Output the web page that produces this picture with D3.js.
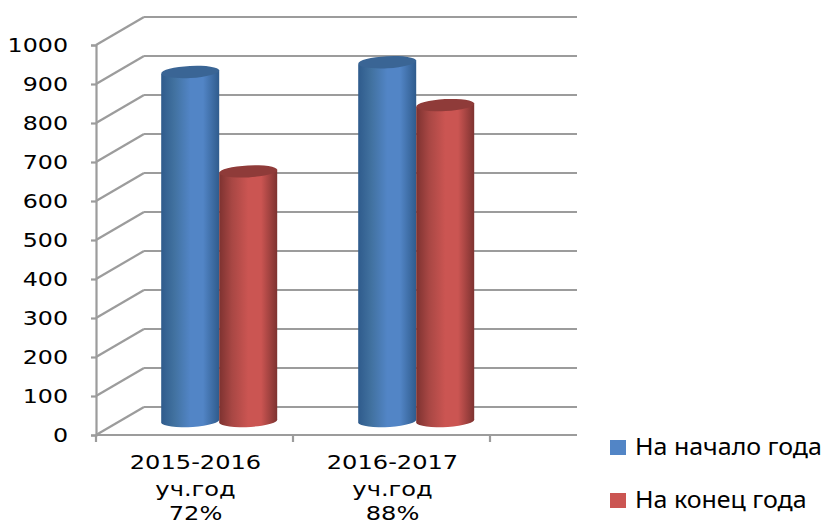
<!DOCTYPE html>
<html>
<head>
<meta charset="utf-8">
<script src="https://cdn.jsdelivr.net/npm/d3@7"></script>
<style>
  html, body { margin: 0; background: #fff; }
  svg { display: block; }
</style>
</head>
<body>
<div class="chart"></div>
<script>
const categories = ["2015-2016|уч.год|72%", "2016-2017|уч.год|88%"];
const seriesNames = ["На начало года", "На конец года"];
const startOfYear = [895, 920];
const endOfYear = [640, 810];
const yTicks = [0, 100, 200, 300, 400, 500, 600, 700, 800, 900, 1000];
const seriesColors = [
  { dark: "#2f5b8c", mid: "#5285c6", top: "#3a6595", edge: "#41719f" },
  { dark: "#7d3230", mid: "#cb5552", top: "#8f3b39", edge: "#a84744" },
];

const width = 827;
const height = 525;
const depth = { x: 48, y: -28 }; // how far the back wall is shifted from the front
const labelStretch = 1.25; // the reference text is wider than the font

const svg = d3
  .select(".chart")
  .append("svg")
  .attr("width", width)
  .attr("height", height)
  .style("font-family", "'DejaVu Sans', sans-serif");

const defs = svg.append("defs");
seriesColors.forEach(function (c, i) {
  const grad = defs
    .append("linearGradient")
    .attr("id", "cyl" + i)
    .attr("x1", 0)
    .attr("x2", 1)
    .attr("y1", 0)
    .attr("y2", 0);
  grad.append("stop").attr("offset", "0%").attr("stop-color", c.dark);
  grad.append("stop").attr("offset", "22%").attr("stop-color", c.edge);
  grad.append("stop").attr("offset", "50%").attr("stop-color", c.mid);
  grad.append("stop").attr("offset", "72%").attr("stop-color", c.mid);
  grad.append("stop").attr("offset", "100%").attr("stop-color", c.dark);
});

const xScale = d3.scaleBand().domain(categories).range([96, 490]);
const yScale = d3.scaleLinear().domain([0, 1000]).range([435, 45]);

const gridColor = "#9c9c9c";
const gridWidth = 2.2;

// back wall lines and the slanted side wall lines
const grid = svg.append("g");
grid
  .selectAll(".back")
  .data(yTicks)
  .enter()
  .append("line")
  .attr("x1", 96 + depth.x)
  .attr("x2", 577)
  .attr("y1", (d) => yScale(d) + depth.y)
  .attr("y2", (d) => yScale(d) + depth.y);
grid
  .selectAll(".side")
  .data(yTicks)
  .enter()
  .append("line")
  .attr("x1", 96)
  .attr("x2", 96 + depth.x)
  .attr("y1", (d) => yScale(d))
  .attr("y2", (d) => yScale(d) + depth.y);
grid.selectAll("line").attr("stroke", gridColor).attr("stroke-width", gridWidth);

// floor front edge and ticks
svg
  .append("line")
  .attr("x1", 96)
  .attr("x2", 577)
  .attr("y1", yScale(0))
  .attr("y2", yScale(0))
  .attr("stroke", gridColor)
  .attr("stroke-width", gridWidth);

svg
  .selectAll(".xtick")
  .data([96, 96 + xScale.bandwidth(), 96 + 2 * xScale.bandwidth()])
  .enter()
  .append("line")
  .attr("x1", (d) => d)
  .attr("x2", (d) => d)
  .attr("y1", yScale(0))
  .attr("y2", yScale(0) + 7)
  .attr("stroke", gridColor)
  .attr("stroke-width", gridWidth);

const yAxis = svg
  .append("g")
  .attr("transform", "translate(96,0)")
  .call(d3.axisLeft(yScale).tickValues(yTicks).tickSize(5).tickFormat((d) => d));
yAxis.selectAll("path, line").attr("stroke", gridColor).attr("stroke-width", gridWidth);
yAxis
  .selectAll("text")
  .attr("fill", "#000")
  .style("font-family", "'DejaVu Sans', sans-serif")
  .style("font-size", "19px")
  .attr("x", -28 / labelStretch)
  .attr("y", 0)
  .attr("dy", "0.36em")
  .attr("transform", `scale(${labelStretch},1)`);

// cylinders
const barWidth = 58;
const rx = barWidth / 2;
const ry = 6;
const midFloor = yScale(0) + depth.y / 2;

function drawCylinder(cx, value, i) {
  const topY = midFloor - (yScale(0) - yScale(value));
  const c = seriesColors[i];
  const g = svg.append("g");
  g.append("path")
    .attr(
      "d",
      `M${cx - rx},${topY + 2}` +
        `L${cx - rx},${midFloor + 2}` +
        `A${rx},${ry} -3 0 0 ${cx + rx},${midFloor - 2}` +
        `L${cx + rx},${topY - 2}Z`
    )
    .attr("fill", `url(#cyl${i})`);
  g.append("ellipse")
    .attr("cx", cx)
    .attr("cy", topY)
    .attr("rx", rx)
    .attr("ry", ry)
    .attr("transform", `rotate(-3 ${cx} ${topY})`)
    .attr("fill", c.top);
}

categories.forEach(function (cat, k) {
  const center = xScale(cat) + xScale.bandwidth() / 2 + depth.x / 2 + 0.7;
  drawCylinder(center - 29, startOfYear[k], 0);
  drawCylinder(center + 29, endOfYear[k], 1);
});

// category labels, last line pulled up a little so it is not cut by the page edge
const labelBaselines = [469, 496, 520];
categories.forEach(function (cat) {
  const cx = xScale(cat) + xScale.bandwidth() / 2 + 1;
  cat.split("|").forEach(function (part, j) {
    svg
      .append("text")
      .attr("text-anchor", "middle")
      .style("font-size", "19px")
      .attr("fill", "#000")
      .attr("transform", `translate(${cx},${labelBaselines[j]}) scale(${labelStretch + 0.02},1)`)
      .text(part);
  });
});

// legend
const legendY = d3.scalePoint().domain(seriesNames).range([447.5, 500.5]);
seriesNames.forEach(function (name, i) {
  svg
    .append("rect")
    .attr("x", 610)
    .attr("y", legendY(name) - 7.5)
    .attr("width", 16)
    .attr("height", 15)
    .attr("fill", seriesColors[i].mid);
  svg
    .append("text")
    .attr("transform", `translate(635,${legendY(name) + 7}) scale(1.04,1)`)
    .style("font-family", "'Noto Sans', sans-serif")
    .style("font-size", "24px")
    .attr("fill", "#000")
    .text(name);
});
</script>
</body>
</html>
